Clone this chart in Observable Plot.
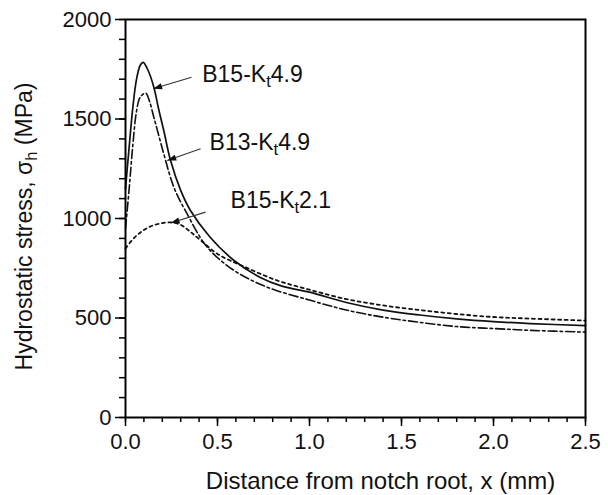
<!DOCTYPE html>
<html><head><meta charset="utf-8">
<script src="https://cdn.jsdelivr.net/npm/d3@7"></script>
<script src="https://cdn.jsdelivr.net/npm/@observablehq/plot@0.6"></script>
<style>
body{margin:0;background:#fff;}
#chart svg{font-family:"Liberation Sans",Arial,sans-serif;}
</style>
</head><body><div id="chart"></div>
<script>
// B15-Kt4.9 (solid)
const xSolid = [0, 0.02, 0.04, 0.06, 0.08, 0.096, 0.12, 0.154, 0.18, 0.208, 0.245, 0.3, 0.353, 0.46, 0.59, 0.73, 0.85, 1.0, 1.2, 1.4, 1.6, 1.8, 2.0, 2.2, 2.5];
const ySolid = [1150, 1360, 1560, 1700, 1770, 1785, 1750, 1660, 1550, 1442, 1291, 1141, 1040, 906, 789, 705, 660, 630, 578, 540, 515, 496, 482, 472, 462];
// B13-Kt4.9 (dash-dot)
const xDashDot = [0, 0.02, 0.04, 0.06, 0.08, 0.11, 0.13, 0.154, 0.18, 0.208, 0.263, 0.335, 0.444, 0.59, 0.77, 1.0, 1.2, 1.4, 1.6, 1.8, 2.0, 2.2, 2.5];
const yDashDot = [950, 1150, 1370, 1540, 1610, 1630, 1590, 1509, 1420, 1325, 1157, 1023, 856, 739, 655, 590, 540, 504, 478, 457, 447, 438, 429];
// B15-Kt2.1 (dotted)
const xDotted = [0, 0.05, 0.1, 0.15, 0.2, 0.25, 0.3, 0.35, 0.41, 0.5, 0.64, 0.82, 1.0, 1.2, 1.4, 1.6, 1.8, 2.0, 2.2, 2.5];
const yDotted = [850, 905, 942, 965, 977, 980, 968, 935, 889, 822, 760, 690, 642, 595, 563, 540, 520, 505, 497, 487];

// labels and arrows
const labelText = ["B15-K_t4.9", "B13-K_t4.9", "B15-K_t2.1"];
const labelX = [0.417, 0.457, 0.571];
const labelY = [1723, 1379, 1088];
const arrowX1 = [0.359, 0.408, 0.435];
const arrowY1 = [1710, 1350, 1032];
const arrowX2 = [0.150, 0.227, 0.245];
const arrowY2 = [1652, 1291, 977];

const xMajorTicks = [0, 0.5, 1.0, 1.5, 2.0, 2.5];
const xMinorTicks = [0,0.1,0.2,0.3,0.4,0.5,0.6,0.7,0.8,0.9,1.0,1.1,1.2,1.3,1.4,1.5,1.6,1.7,1.8,1.9,2.0,2.1,2.2,2.3,2.4,2.5];
const yMajorTicks = [0, 500, 1000, 1500, 2000];
const yMinorTicks = [0,100,200,300,400,500,600,700,800,900,1000,1100,1200,1300,1400,1500,1600,1700,1800,1900,2000];
const xTitle = "Distance from notch root, x (mm)";
const yTitle = "Hydrostatic stress, σ_h (MPa)";

const solid = xSolid.map((x, i) => ({x, y: ySolid[i]}));
const dashDot = xDashDot.map((x, i) => ({x, y: yDashDot[i]}));
const dotted = xDotted.map((x, i) => ({x, y: yDotted[i]}));
const labels = labelText.map((t, i) => ({t, x: labelX[i], y: labelY[i]}));
const arrows = arrowX1.map((x1, i) => ({x1, y1: arrowY1[i], x2: arrowX2[i], y2: arrowY2[i]}));

const chart = Plot.plot({
  width: 608,
  height: 495,
  marginLeft: 125,
  marginRight: 23,
  marginTop: 19,
  marginBottom: 78,
  x: {domain: [0, 2.5]},
  y: {domain: [0, 2000]},
  marks: [
    Plot.axisX({ticks: xMinorTicks, tickSize: 5, text: null, label: null, strokeWidth: 1.5}),
    Plot.axisX({ticks: xMajorTicks, tickSize: 9, tickPadding: 7, tickFormat: d3.format(".1f"), label: null, fontSize: 22, strokeWidth: 1.5, fill: "#111"}),
    Plot.axisY({ticks: yMinorTicks, tickSize: 6, text: null, label: null, strokeWidth: 1.5}),
    Plot.axisY({ticks: yMajorTicks, tickSize: 10, tickPadding: 4, tickFormat: d3.format("d"), label: null, fontSize: 22, strokeWidth: 1.5, fill: "#111"}),
    Plot.line(dotted, {x: "x", y: "y", stroke: "#111", strokeWidth: 1.8, strokeDasharray: "3,3.5", curve: "catmull-rom"}),
    Plot.line(dashDot, {x: "x", y: "y", stroke: "#111", strokeWidth: 1.6, strokeDasharray: "9,3,2.5,3", curve: "catmull-rom"}),
    Plot.line(solid, {x: "x", y: "y", stroke: "#111", strokeWidth: 1.7, curve: "catmull-rom"}),
    Plot.link(arrows, {x1: "x1", y1: "y1", x2: "x2", y2: "y2", stroke: "#333", strokeWidth: 1.1}),
    Plot.text(labels, {x: "x", y: "y", text: "t", textAnchor: "start", fontSize: 23, fill: "#111"}),
    Plot.text([xTitle], {text: d => d, frameAnchor: "bottom", lineAnchor: "bottom", dx: 25, dy: 71, fontSize: 24, fill: "#111"}),
    Plot.text([yTitle], {text: d => d, frameAnchor: "left", textAnchor: "middle", rotate: -90, dx: -101, dy: 8, fontSize: 23, fill: "#111"}),
    Plot.frame({stroke: "#000", strokeWidth: 2})
  ]
});
document.getElementById("chart").appendChild(chart);

const svg = d3.select(chart);
// arrowhead marker (filled)
const defs = svg.insert("defs", ":first-child");
defs.append("marker")
  .attr("id", "ahead").attr("viewBox", "0 0 10 10").attr("refX", 10).attr("refY", 5)
  .attr("markerUnits", "userSpaceOnUse").attr("markerWidth", 11).attr("markerHeight", 9)
  .attr("orient", "auto")
  .append("path").attr("d", "M0,1.5L10,5L0,8.5Z").attr("fill", "#111");
svg.selectAll('g[aria-label="link"] path').attr("marker-end", "url(#ahead)");

// subscripts
svg.selectAll("text").each(function() {
  const el = d3.select(this);
  const s = this.textContent;
  if (!s.includes("_")) return;
  const idx = s.indexOf("_");
  const before = s.slice(0, idx), sub = s[idx + 1], after = s.slice(idx + 2);
  el.text(null);
  el.append("tspan").text(before);
  el.append("tspan").attr("dy", "0.3em").attr("font-size", "0.72em").text(sub);
  el.append("tspan").attr("dy", "-0.22em").text(after);
});
</script>
</body></html>
